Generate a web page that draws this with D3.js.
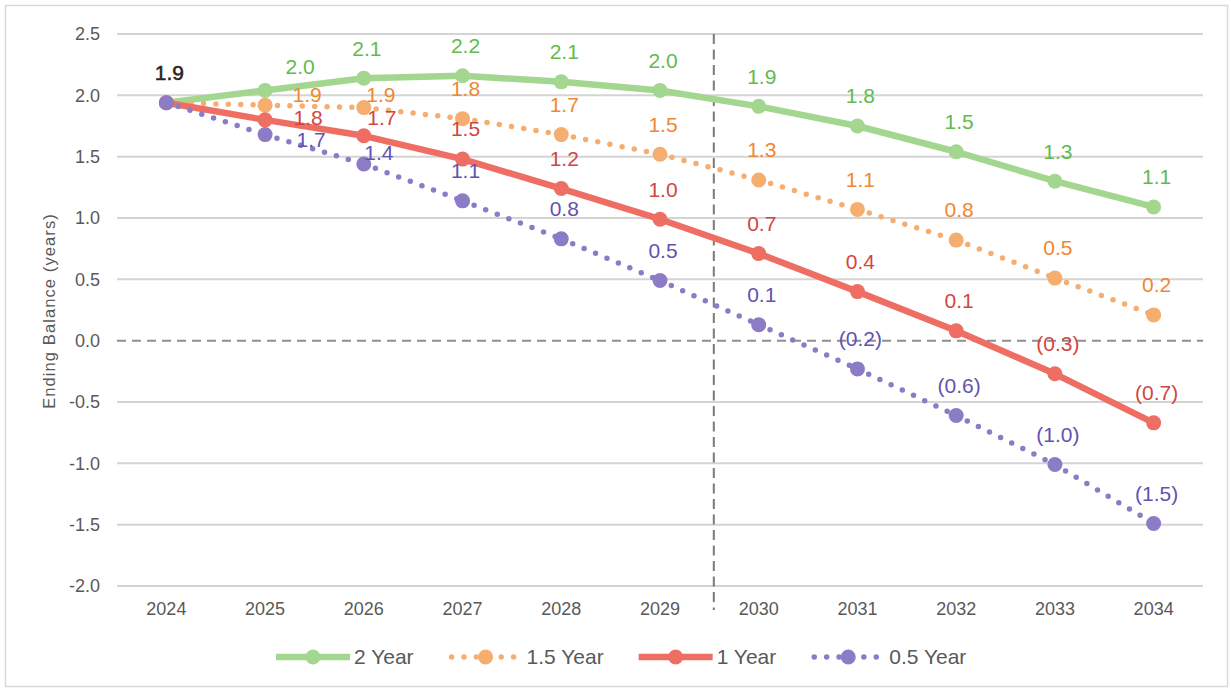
<!DOCTYPE html>
<html>
<head>
<meta charset="utf-8">
<script src="https://cdn.jsdelivr.net/npm/d3@7"></script>
<style>
  html, body { margin: 0; padding: 0; background: #ffffff; }
  svg { display: block; font-family: "Liberation Sans", Arial, sans-serif; }
</style>
</head>
<body>
<svg id="chart" width="1231" height="691"></svg>
<script>
// ---- data ----
const years = ["2024", "2025", "2026", "2027", "2028", "2029", "2030", "2031", "2032", "2033", "2034"];
const seriesNames = ["2 Year", "1.5 Year", "1 Year", "0.5 Year"];
const twoYear      = [1.94, 2.04, 2.14, 2.16, 2.11, 2.04, 1.91, 1.75, 1.54, 1.30, 1.09];
const oneHalfYear  = [1.94, 1.92, 1.90, 1.81, 1.68, 1.52, 1.31, 1.07, 0.82, 0.51, 0.21];
const oneYear      = [1.94, 1.80, 1.67, 1.48, 1.24, 0.99, 0.71, 0.40, 0.08, -0.27, -0.67];
const halfYear     = [1.94, 1.68, 1.44, 1.14, 0.83, 0.49, 0.13, -0.23, -0.61, -1.01, -1.49];
const yTickValues  = [-2.0, -1.5, -1.0, -0.5, 0.0, 0.5, 1.0, 1.5, 2.0, 2.5];
const yTitle = "Ending Balance (years)";

// ---- styling ----
const styles = {
  "2 Year":   { line: "#a3d68e", text: "#62ba4c", dotted: false },
  "1.5 Year": { line: "#f6ae70", text: "#ef8733", dotted: true  },
  "1 Year":   { line: "#ee6e64", text: "#d2463f", dotted: false },
  "0.5 Year": { line: "#8c7cc6", text: "#6452b0", dotted: true  }
};
// label offsets (dx, dy of label centre from its point); default applies elsewhere
const labelDefault = [3, -30];
const labelOffsets = {
  "2 Year":   { "2025": [35, -24] },
  "1.5 Year": { "2025": [42, -10], "2026": [17, -13] },
  "1 Year":   { "2025": [43, -2],  "2026": [18, -18] },
  "0.5 Year": { "2025": [46, 5],   "2026": [15, -11] }
};

const seriesValues = [twoYear, oneHalfYear, oneYear, halfYear];
const series = seriesNames.map((name, i) => ({
  name,
  points: years.map((yr, j) => ({ year: yr, value: seriesValues[i][j] }))
}));

const fmt = v => v < 0 ? "(" + Math.abs(v).toFixed(1) + ")" : v.toFixed(1);
const tickFmt = v => v.toFixed(1); // plain hyphen for negatives

// ---- layout ----
const svg = d3.select("#chart");
const plot = { left: 117, right: 1203, top: 34, bottom: 586 };

const x = d3.scaleBand().domain(years).range([plot.left, plot.right]).padding(0);
const cx = d => x(d) + x.bandwidth() / 2;
const y = d3.scaleLinear().domain([-2, 2.5]).range([plot.bottom, plot.top]);

// outer frame
svg.append("rect")
  .attr("x", 5.5).attr("y", 5.5).attr("width", 1222).attr("height", 681)
  .attr("fill", "#fff").attr("stroke", "#d9d9d9").attr("stroke-width", 1.5);

// horizontal gridlines (zero line dashed)
svg.append("g").selectAll("line")
  .data(yTickValues)
  .join("line")
  .attr("x1", plot.left).attr("x2", plot.right)
  .attr("y1", d => y(d)).attr("y2", d => y(d))
  .attr("stroke", d => d === 0 ? "#8f8f8f" : "#d4d4d4")
  .attr("stroke-width", 2)
  .attr("stroke-dasharray", d => d === 0 ? "9 6" : null);

// y axis labels
const yAxis = svg.append("g")
  .attr("transform", `translate(${plot.left},0)`)
  .call(d3.axisLeft(y).tickValues(yTickValues).tickSize(0).tickPadding(17).tickFormat(tickFmt));
yAxis.select(".domain").remove();
yAxis.selectAll("text")
  .attr("fill", "#595959").style("font-size", "18px")
  .style("font-family", "'Liberation Sans', Arial, sans-serif");

// x axis labels
const xAxis = svg.append("g")
  .attr("transform", `translate(0,${plot.bottom})`)
  .call(d3.axisBottom(x).tickSize(0).tickPadding(16));
xAxis.select(".domain").remove();
xAxis.selectAll("text")
  .attr("fill", "#595959").style("font-size", "18px")
  .style("font-family", "'Liberation Sans', Arial, sans-serif");

// y axis title
svg.append("text")
  .attr("transform", "translate(55,311) rotate(-90)")
  .attr("text-anchor", "middle")
  .attr("fill", "#595959")
  .style("font-size", "16.5px")
  .style("letter-spacing", "1.1px")
  .text(yTitle);

// divider between 2029 and 2030
const dividerX = cx("2029") + (cx("2030") - cx("2029")) * 0.545;
svg.append("line")
  .attr("x1", dividerX).attr("x2", dividerX)
  .attr("y1", plot.top).attr("y2", plot.bottom + 24)
  .attr("stroke", "#7a7a7a").attr("stroke-width", 2)
  .attr("stroke-dasharray", "10 5.5");

// series lines & markers
const line = d3.line().x(d => cx(d.year)).y(d => y(d.value));
const gSeries = svg.append("g");
series.forEach(s => {
  const st = styles[s.name];
  const g = gSeries.append("g");
  if (st.dotted) {
    // dotted lines restart their pattern at every point
    for (let i = 0; i < s.points.length - 1; i++) {
      g.append("path")
        .attr("d", line([s.points[i], s.points[i + 1]]))
        .attr("fill", "none").attr("stroke", st.line)
        .attr("stroke-width", 5.5).attr("stroke-linecap", "round")
        .attr("stroke-dasharray", "0 12.4");
    }
  } else {
    g.append("path")
      .attr("d", line(s.points))
      .attr("fill", "none").attr("stroke", st.line)
      .attr("stroke-width", 6.5).attr("stroke-linejoin", "round");
  }
  g.selectAll("circle")
    .data(s.points)
    .join("circle")
    .attr("cx", d => cx(d.year)).attr("cy", d => y(d.value))
    .attr("r", 7.5).attr("fill", st.line);
});

// data labels
const gLabels = svg.append("g").style("font-size", "21px");
series.forEach((s, si) => {
  const st = styles[s.name];
  s.points.forEach((p, j) => {
    if (j === 0 && si > 0) return; // shared starting value labelled once
    const off = (labelOffsets[s.name] && labelOffsets[s.name][p.year]) || labelDefault;
    gLabels.append("text")
      .attr("x", cx(p.year) + off[0])
      .attr("y", y(p.value) + off[1])
      .attr("dy", "0.35em")
      .attr("text-anchor", "middle")
      .attr("fill", j === 0 ? "#2b2222" : st.text)
      .attr("stroke", j === 0 ? "#2b2222" : "none")
      .attr("stroke-width", j === 0 ? 0.5 : 0)
      .text(fmt(p.value));
  });
});

// legend
const legendY = 657;
const sampleW = 74;
const legend = svg.append("g");
const items = seriesNames.map(name => {
  const st = styles[name];
  const g = legend.append("g");
  if (st.dotted) {
    g.append("line")
      .attr("x1", 3).attr("x2", sampleW).attr("y1", 0).attr("y2", 0)
      .attr("stroke", st.line).attr("stroke-width", 5.5)
      .attr("stroke-linecap", "round").attr("stroke-dasharray", "0 12.4");
  } else {
    g.append("line")
      .attr("x1", 0).attr("x2", sampleW).attr("y1", 0).attr("y2", 0)
      .attr("stroke", st.line).attr("stroke-width", 6.5);
  }
  g.append("circle").attr("cx", sampleW / 2).attr("cy", 0).attr("r", 7.5).attr("fill", st.line);
  const t = g.append("text")
    .attr("x", sampleW + 4).attr("y", 0).attr("dy", "0.35em")
    .attr("fill", "#595959").style("font-size", "21px")
    .text(name);
  return { g, w: sampleW + 4 + t.node().getComputedTextLength() };
});
const gap = 35;
let lx = 276;
items.forEach(it => {
  it.g.attr("transform", `translate(${lx},${legendY})`);
  lx += it.w + gap;
});
</script>
</body>
</html>
